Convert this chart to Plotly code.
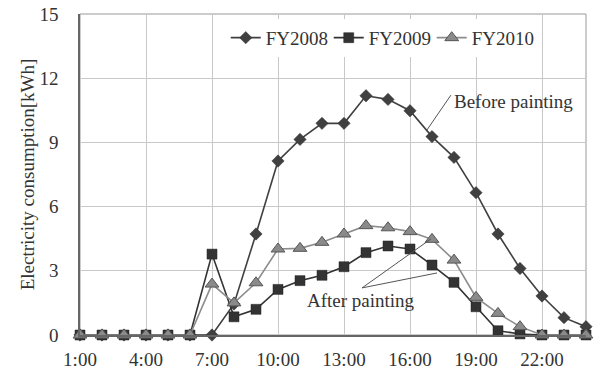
import plotly.graph_objects as go

hours = list(range(1, 25))
fy2008 = [0, 0, 0, 0, 0, 0, 0, 1.45, 4.72, 8.13, 9.14, 9.89, 9.89, 11.18, 11.01, 10.48,
          9.27, 8.30, 6.65, 4.72, 3.11, 1.82, 0.81, 0.39]
fy2009 = [0, 0, 0, 0, 0, 0, 3.78, 0.85, 1.2, 2.13, 2.54, 2.79, 3.19, 3.85, 4.16, 4.02,
          3.27, 2.46, 1.32, 0.2, 0.05, 0, 0, 0]
fy2010 = [0, 0, 0, 0, 0, 0, 2.38, 1.5, 2.44, 4.02, 4.05, 4.33, 4.72, 5.11, 5.01, 4.83,
          4.47, 3.5, 1.76, 1.01, 0.39, 0, 0, 0]
tick_hours = [1, 4, 7, 10, 13, 16, 19, 22]
tick_labels = ["1:00", "4:00", "7:00", "10:00", "13:00", "16:00", "19:00", "22:00"]
y_ticks = [0, 3, 6, 9, 12, 15]

FONT = "Liberation Serif"
TXT = "#333333"

fig = go.Figure()
fig.add_trace(go.Scatter(
    x=hours, y=fy2008, name="FY2008", mode="lines+markers",
    line=dict(color="#404040", width=1.6),
    marker=dict(symbol="diamond", size=9.5, color="#404040", line=dict(color="#333", width=0.5)),
    cliponaxis=False))
fig.add_trace(go.Scatter(
    x=hours, y=fy2009, name="FY2009", mode="lines+markers",
    line=dict(color="#333333", width=1.6),
    marker=dict(symbol="square", size=10, color="#333333", line=dict(color="#222", width=0.5)),
    cliponaxis=False))
fig.add_trace(go.Scatter(
    x=hours, y=fy2010, name="FY2010", mode="lines+markers",
    line=dict(color="#8c8c8c", width=1.6),
    marker=dict(symbol="triangle-up", size=12, color="#8a8a8a", line=dict(color="#555", width=1)),
    cliponaxis=False))

# annotation leader lines
line_style = dict(color="#555555", width=1)
fig.add_shape(type="line", x0=17.86, y0=11.21, x1=16.77, y1=9.58, line=line_style)
fig.add_shape(type="line", x0=13.82, y0=2.2, x1=16.95, y1=4.49, line=line_style)
fig.add_shape(type="line", x0=13.82, y0=2.2, x1=17.23, y1=2.9, line=line_style)

fig.add_annotation(x=20.7, y=10.93, text="Before painting", showarrow=False,
                   font=dict(family=FONT, size=19, color=TXT))
fig.add_annotation(x=13.77, y=1.59, text="After painting", showarrow=False,
                   font=dict(family=FONT, size=19, color=TXT))

fig.update_layout(
    width=595, height=371,
    margin=dict(l=80, r=9, t=14, b=36, autoexpand=False),
    paper_bgcolor="white", plot_bgcolor="white",
    font=dict(family=FONT, size=19, color=TXT),
    showlegend=True,
    legend=dict(orientation="h", x=0.288, y=0.985, xanchor="left", yanchor="top",
                bgcolor="white", font=dict(family=FONT, size=19, color=TXT),
                entrywidth=58, entrywidthmode="pixels", borderwidth=0),
    xaxis=dict(range=[1, 24], tickmode="array", tickvals=tick_hours, ticktext=tick_labels,
               automargin=False,
               showgrid=True, gridcolor="#c8c8c8", gridwidth=1,
               showline=True, linecolor="#666666", linewidth=1.5, mirror=False,
               zeroline=False, ticks="", ticklabelstandoff=6,
               tickfont=dict(family=FONT, size=19, color=TXT)),
    yaxis=dict(range=[0, 15], tickmode="array", tickvals=y_ticks,
               automargin=False,
               showgrid=True, gridcolor="#c8c8c8", gridwidth=1,
               showline=True, linecolor="#666666", linewidth=1.5,
               zeroline=False, ticks="", ticklabelstandoff=16,
               title=dict(text="Electricity consumption[kWh]", standoff=0,
                          font=dict(family=FONT, size=19, color=TXT)),
               tickfont=dict(family=FONT, size=19, color=TXT)),
)
# plot border (top and right)
fig.add_shape(type="rect", xref="paper", yref="paper", x0=0, y0=0, x1=1, y1=1,
              line=dict(color="#999999", width=1), layer="below")

fig.write_html("out.html", config={"displayModeBar": False},
               post_script="document.body.style.margin='0';")
